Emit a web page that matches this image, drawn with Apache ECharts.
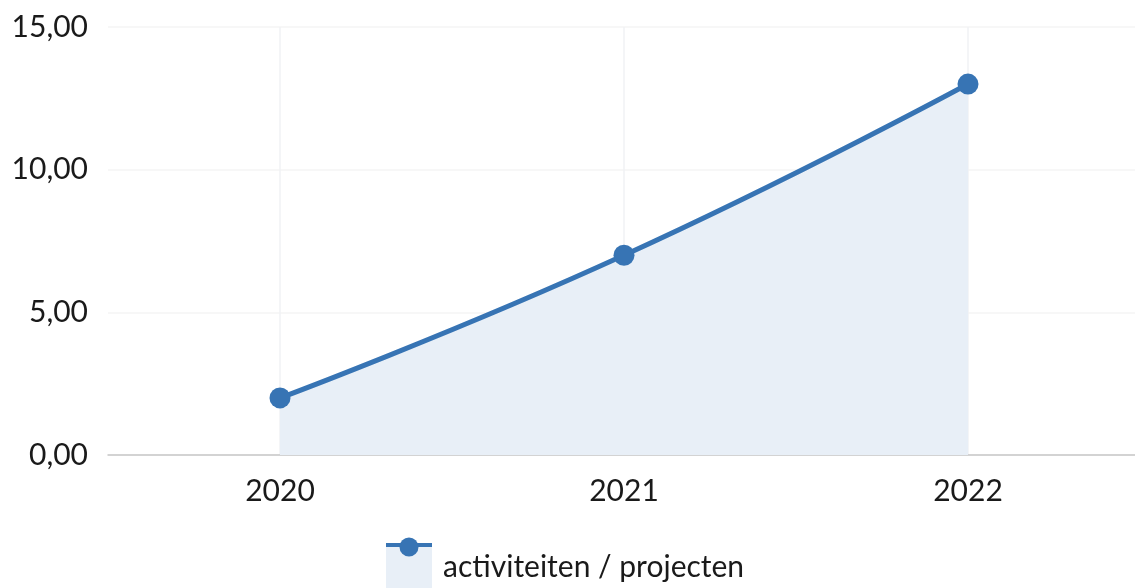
<!DOCTYPE html>
<html>
<head>
<meta charset="utf-8">
<script src="https://cdn.jsdelivr.net/npm/echarts@6/dist/echarts.min.js"></script>
<style>
  html, body { margin: 0; padding: 0; background: #fff; overflow: hidden; }
  #main { width: 1141px; height: 588px; }
</style>
</head>
<body>
<div id="main"></div>
<script>
// data
var years = ['2020', '2021', '2022'];
var aantal = [2, 7, 13];
var seriesName = 'activiteiten / projecten';

var blue = '#3774b4';
var lightBlue = '#e8eff7';
var font = 'Lato, "Noto Sans", sans-serif';

// the chart is a bit wider than the window, the right edge gets cut off
var chart = echarts.init(document.getElementById('main'));

var option = {
    animation: false,
    grid: {
        left: 108,
        right: 1,
        top: 27,
        bottom: 133
    },
    xAxis: {
        type: 'category',
        data: years,
        boundaryGap: true,
        axisLine: { lineStyle: { color: '#c8c8c8', width: 1.5 } },
        axisTick: { show: false },
        axisLabel: {
            color: '#1a1a1a',
            fontFamily: font,
            fontSize: 30,
            margin: 21
        },
        splitLine: {
            show: true,
            alignWithLabel: true,
            lineStyle: { color: '#f1f2f4', width: 1.5 }
        }
    },
    yAxis: {
        type: 'value',
        min: 0,
        max: 15,
        interval: 5,
        axisLine: { show: false },
        axisTick: { show: false },
        axisLabel: {
            color: '#1a1a1a',
            fontFamily: font,
            fontSize: 30,
            margin: 20,
            formatter: function (v) { return v.toFixed(2).replace('.', ','); }
        },
        splitLine: { lineStyle: { color: '#f5f5f5', width: 1.5 } }
    },
    legend: {
        left: 386,
        top: 545,
        padding: 0,
        icon: 'rect',
        itemWidth: 46,
        itemHeight: 44,
        itemStyle: { color: lightBlue },
        textStyle: {
            color: '#1a1a1a',
            fontFamily: font,
            fontSize: 30,
            padding: [16, 0, 0, 6]
        },
        data: [seriesName]
    },
    graphic: [
        {
            type: 'line',
            shape: { x1: 386, y1: 545, x2: 432, y2: 545 },
            style: { stroke: blue, lineWidth: 4 },
            z: 100
        },
        {
            type: 'circle',
            shape: { cx: 409, cy: 547, r: 9.5 },
            style: { fill: blue },
            z: 101
        }
    ],
    series: [
        {
            name: seriesName,
            type: 'line',
            data: aantal,
            smooth: 0.5,
            symbol: 'circle',
            symbolSize: 21,
            lineStyle: { color: blue, width: 5 },
            itemStyle: { color: blue },
            areaStyle: { color: lightBlue, opacity: 1 }
        }
    ]
};

chart.setOption(option);
</script>
</body>
</html>
